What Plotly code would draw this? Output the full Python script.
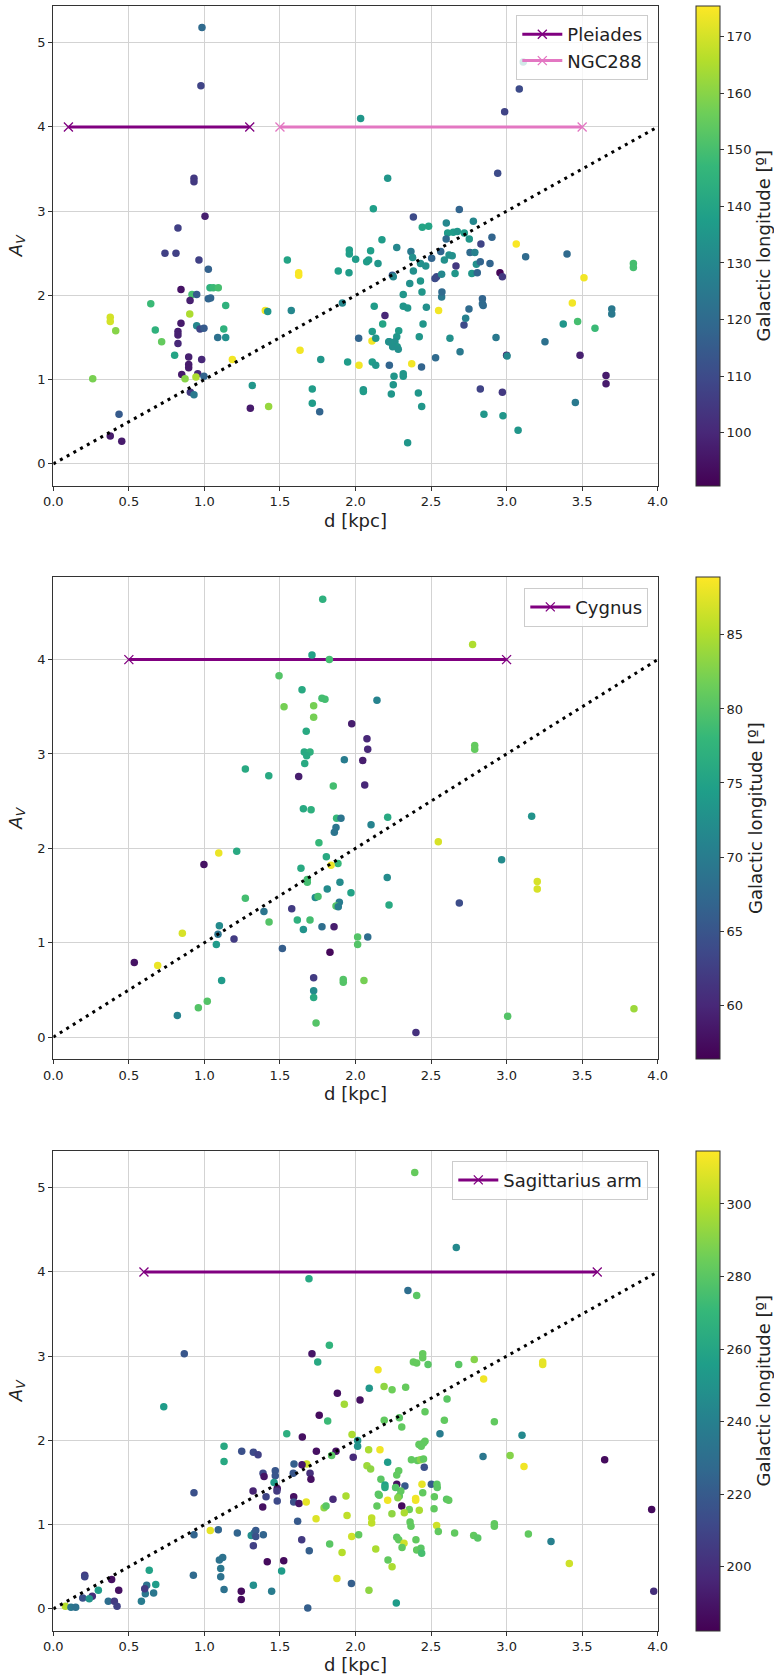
import plotly.graph_objects as go

# ---------------- Panel 1: Pleiades / NGC288 direction ----------------
p1_d = [0.984, 0.977, 2.034, 0.931, 0.931, 2.213, 2.118, 1.004, 0.825, 0.739, 0.812, 0.964, 1.026, 1.549,
        1.624, 1.624, 1.886, 1.957, 1.959, 1.959, 2.001, 2.074, 2.087, 2.10, 2.149, 2.175, 2.273, 2.244,
        2.25, 3.11, 3.084, 2.987, 2.941, 2.687, 2.383, 2.442, 2.484, 2.601, 2.78, 2.61, 2.647, 2.674,
        2.72, 2.60, 2.753, 2.903, 2.83, 3.064, 2.367, 2.564, 2.758, 2.79, 2.378, 2.43, 2.465, 2.504,
        2.619, 2.64, 2.588, 2.665, 2.80, 2.826, 2.89, 2.956, 2.972, 3.126, 3.40, 3.839, 3.839, 3.512,
        3.435, 3.47, 3.375, 3.585, 3.696, 3.696, 3.254, 2.93, 3.0, 3.003, 3.486, 3.658, 3.658, 2.826,
        2.972, 3.455, 2.85, 2.976, 3.076, 2.345, 2.416, 2.438, 2.237, 2.25, 2.255, 2.316, 2.316, 2.372,
        2.437, 2.224, 2.53, 2.692, 2.625, 2.718, 2.729, 2.751, 2.84, 2.84, 2.845, 2.55, 2.57, 2.572,
        2.469, 2.447, 2.422, 2.44, 2.43, 2.359, 2.316, 2.316, 2.345, 2.18, 2.195, 2.286, 2.273, 2.261,
        2.276, 2.246, 2.224, 2.283, 2.383, 2.526, 2.537, 2.57, 2.659, 2.77, 2.806, 0.845, 0.918, 0.949,
        1.026, 1.041, 1.037, 1.059, 1.092, 1.141, 0.905, 0.903, 0.645, 0.377, 0.377, 0.413, 0.675, 0.717,
        0.845, 0.949, 0.971, 0.997, 0.825, 0.825, 0.825, 0.803, 0.896, 0.982, 0.896, 0.896, 0.85, 0.956,
        0.944, 0.997, 0.872, 0.907, 0.931, 0.261, 1.088, 1.141, 1.128, 1.185, 1.317, 1.304, 1.425, 1.403,
        1.419, 1.575, 1.633, 1.77, 1.714, 1.714, 1.763, 1.913, 1.948, 2.021, 2.023, 2.052, 2.052, 2.109,
        2.111, 2.134, 2.111, 2.134, 2.124, 2.22, 0.377, 0.435, 0.453]
p1_av = [5.18, 4.49, 4.10, 3.39, 3.35, 3.39, 3.03, 2.94, 2.80, 2.50, 2.50, 2.42, 2.31, 2.42,
         2.27, 2.24, 2.29, 2.27, 2.54, 2.49, 2.43, 2.40, 2.42, 2.53, 2.38, 2.66, 2.57, 2.24,
         2.22, 4.77, 4.45, 4.18, 3.45, 3.02, 2.93, 2.81, 2.82, 2.86, 2.88, 2.74, 2.75, 2.76,
         2.74, 2.67, 2.67, 2.69, 2.61, 2.61, 2.52, 2.52, 2.51, 2.51, 2.45, 2.38, 2.35, 2.44,
         2.48, 2.47, 2.42, 2.35, 2.37, 2.40, 2.38, 2.27, 2.22, 2.46, 2.49, 2.38, 2.33, 2.21,
         1.91, 1.69, 1.66, 1.61, 1.84, 1.78, 1.45, 1.50, 1.29, 1.28, 1.29, 1.05, 0.95, 0.89,
         0.85, 0.73, 0.59, 0.57, 0.40, 0.25, 0.84, 0.68, 0.83, 0.94, 1.04, 1.07, 1.04, 1.19,
         1.15, 1.17, 1.26, 1.33, 1.49, 1.65, 1.73, 1.84, 1.96, 1.90, 1.88, 1.82, 1.98, 2.04,
         1.86, 1.66, 1.51, 2.04, 2.17, 2.14, 2.01, 1.87, 1.85, 1.66, 1.76, 1.58, 1.51, 1.45,
         1.39, 1.39, 1.45, 1.36, 2.29, 2.20, 2.22, 2.25, 2.26, 2.26, 2.27, 2.07, 2.01, 2.01,
         1.96, 1.97, 2.09, 2.09, 2.09, 1.88, 1.94, 1.78, 1.90, 1.74, 1.69, 1.58, 1.59, 1.45,
         1.67, 1.64, 1.60, 1.61, 1.57, 1.53, 1.43, 1.29, 1.27, 1.24, 1.18, 1.14, 1.06, 1.07,
         1.03, 1.04, 1.01, 0.85, 0.82, 1.01, 1.50, 1.50, 1.60, 1.24, 0.93, 0.66, 0.68, 1.82,
         1.81, 1.82, 1.35, 1.24, 0.89, 0.72, 0.62, 1.91, 1.21, 1.49, 1.17, 0.88, 0.86, 1.46,
         1.57, 1.49, 1.21, 1.17, 1.87, 1.45, 0.33, 0.59, 0.27]
p1_lon = [120, 108, 135, 105, 105, 135, 138, 98, 107, 107, 107, 107, 117, 140,
          175, 175, 138, 137, 138, 138, 137, 137, 137, 138, 135, 137, 130, 115,
          130, 135, 110, 108, 110, 118, 110, 140, 140, 130, 130, 137, 137, 135,
          137, 120, 135, 118, 108, 175, 125, 118, 120, 128, 133, 133, 133, 118,
          133, 133, 133, 105, 133, 118, 118, 92, 105, 120, 120, 150, 150, 174,
          174, 150, 135, 148, 125, 125, 122, 125, 98, 130, 98, 97, 97, 108,
          105, 125, 135, 135, 135, 135, 135, 135, 135, 135, 135, 135, 135, 174,
          118, 118, 120, 125, 133, 110, 128, 120, 118, 120, 120, 174, 125, 120,
          133, 135, 135, 135, 135, 133, 135, 135, 135, 140, 100, 137, 135, 133,
          135, 133, 135, 133, 133, 110, 110, 130, 135, 135, 118, 95, 150, 115,
          118, 118, 145, 148, 150, 145, 98, 165, 148, 170, 170, 160, 145, 155,
          97, 130, 108, 115, 98, 98, 100, 140, 98, 100, 97, 97, 97, 100,
          165, 118, 160, 105, 125, 158, 122, 133, 145, 174, 135, 97, 162, 174,
          135, 130, 174, 135, 137, 137, 118, 130, 137, 118, 174, 135, 137, 174,
          137, 135, 137, 135, 137, 133, 97, 115, 97]

# ---------------- Panel 2: Cygnus direction ----------------
p2_d = [1.783, 1.712, 1.827, 1.494, 1.646, 1.527, 1.723, 1.778, 1.798, 1.723, 2.142, 1.975, 2.076, 2.081,
        1.674, 1.661, 1.699, 1.677, 1.664, 1.926, 2.048, 1.271, 1.426, 1.624, 1.853, 2.061, 1.655, 1.706,
        1.875, 1.904, 2.213, 2.775, 2.789, 2.789, 3.166, 1.871, 1.86, 2.103, 1.758, 1.214, 1.095, 0.997,
        1.807, 1.884, 1.838, 1.639, 1.897, 1.681, 1.681, 1.813, 1.97, 1.734, 1.752, 1.893, 1.871, 1.886,
        2.21, 2.222, 1.271, 1.394, 1.578, 1.615, 1.699, 1.428, 1.655, 1.778, 1.858, 0.854, 1.099, 1.09,
        1.079, 1.196, 1.516, 2.014, 2.014, 2.081, 1.831, 0.536, 0.691, 1.114, 1.723, 1.723, 1.723, 1.919,
        1.919, 2.056, 1.019, 0.96, 0.821, 1.739, 2.548, 2.967, 3.203, 3.203, 2.687, 3.007, 3.843, 2.40]
p2_av = [4.64, 4.05, 4.00, 3.83, 3.68, 3.50, 3.51, 3.59, 3.58, 3.39, 3.57, 3.32, 3.16, 3.05,
         3.24, 3.02, 3.02, 2.98, 2.90, 2.94, 2.93, 2.84, 2.77, 2.76, 2.66, 2.67, 2.42, 2.41,
         2.32, 2.32, 2.33, 4.16, 3.09, 3.05, 2.34, 2.22, 2.17, 2.25, 2.06, 1.97, 1.95, 1.83,
         1.91, 1.84, 1.82, 1.79, 1.64, 1.67, 1.64, 1.57, 1.53, 1.48, 1.49, 1.43, 1.39, 1.38,
         1.69, 1.40, 1.47, 1.33, 1.36, 1.24, 1.24, 1.22, 1.14, 1.17, 1.17, 1.10, 1.18, 1.09,
         0.98, 1.04, 0.94, 1.06, 0.98, 1.06, 0.90, 0.79, 0.76, 0.60, 0.63, 0.49, 0.42, 0.61,
         0.58, 0.60, 0.38, 0.31, 0.23, 0.15, 2.07, 1.88, 1.65, 1.57, 1.42, 0.22, 0.30, 0.05]
p2_lon = [77, 75, 79, 80, 76, 82, 82, 79, 79, 82, 71, 59, 60, 60,
          76, 76, 77, 76, 76, 70, 59, 76, 76, 59, 79, 60, 76, 77,
          78, 69, 76, 85, 81, 81, 73, 69, 69, 71, 78, 76, 88, 58,
          76, 78, 88, 76, 72, 79, 79, 72, 75, 72, 79, 70, 80, 70,
          72, 76, 79, 69, 62, 77, 79, 80, 73, 68, 59, 87, 72, 69,
          74, 62, 66, 80, 80, 68, 57, 58, 88, 74, 62, 72, 76, 80,
          80, 82, 80, 80, 71, 80, 87, 72, 87, 87, 64, 80, 84, 61]

# ---------------- Panel 3: Sagittarius arm direction ----------------
p3_d = [1.692, 0.867, 1.712, 1.827, 1.75, 2.149, 2.091, 2.189, 2.242, 1.88, 2.03, 1.926, 0.731, 2.392,
        2.667, 2.347, 2.405, 2.445, 2.445, 2.383, 2.405, 2.48, 2.683, 2.786, 3.239, 3.239, 2.848, 2.332,
        2.606, 1.76, 1.816, 1.545, 1.648, 1.977, 2.014, 2.014, 1.13, 1.13, 1.247, 1.324, 1.355, 1.741,
        1.871, 1.842, 1.985, 2.087, 2.162, 2.213, 2.076, 2.10, 1.593, 1.677, 1.646, 1.699, 1.705, 1.388,
        1.395, 1.469, 1.469, 1.588, 1.461, 1.482, 1.48, 1.322, 1.408, 1.482, 1.591, 1.591, 1.626, 1.674,
        1.851, 1.386, 1.617, 1.739, 1.792, 1.805, 1.937, 1.944, 2.107, 2.107, 2.213, 2.142, 2.151, 2.157,
        2.168, 2.241, 2.195, 2.195, 2.273, 0.931, 1.039, 0.931, 1.092, 1.218, 1.31, 1.33, 1.34, 1.34,
        1.39, 1.324, 1.416, 1.525, 1.511, 1.644, 1.694, 1.829, 1.911, 1.975, 2.021, 2.134, 2.215, 2.242,
        2.273, 2.286, 1.877, 1.973, 2.089, 2.27, 1.684, 1.108, 1.108, 1.099, 1.121, 1.13, 0.927, 1.324,
        1.445, 1.244, 1.244, 0.635, 0.678, 0.618, 0.609, 0.605, 0.664, 0.583, 0.386, 0.433, 0.364, 0.404,
        0.422, 0.208, 0.208, 0.298, 0.258, 0.195, 0.238, 0.08, 0.117, 0.148, 2.46, 2.588, 2.919, 2.29,
        2.306, 2.19, 2.559, 3.102, 2.42, 2.435, 2.46, 2.45, 2.844, 3.023, 3.115, 3.649, 2.37, 2.41,
        2.43, 2.45, 2.455, 2.286, 2.273, 2.327, 2.30, 2.29, 2.28, 2.44, 2.445, 2.502, 2.539, 2.541,
        2.522, 2.603, 2.617, 2.398, 2.398, 2.306, 2.356, 2.323, 2.422, 2.52, 2.361, 2.367, 2.537, 2.548,
        2.656, 2.782, 2.809, 2.919, 2.919, 3.144, 3.294, 3.415, 3.96, 3.974, 2.321, 2.308, 2.40, 2.405,
        2.433, 2.438, 2.265]
p3_av = [3.92, 3.03, 3.03, 3.13, 2.93, 2.84, 2.62, 2.64, 2.60, 2.56, 2.48, 2.43, 2.40, 5.18,
         4.29, 3.78, 3.72, 3.03, 2.98, 2.93, 2.92, 2.90, 2.90, 2.96, 2.93, 2.90, 2.73, 2.63,
         2.49, 2.30, 2.23, 2.08, 2.04, 2.07, 2.00, 1.93, 1.93, 1.75, 1.87, 1.86, 1.83, 1.87,
         1.87, 1.82, 1.80, 1.89, 1.89, 1.74, 1.70, 1.66, 1.72, 1.72, 1.71, 1.61, 1.54, 1.61,
         1.57, 1.64, 1.58, 1.61, 1.50, 1.43, 1.40, 1.40, 1.33, 1.28, 1.33, 1.27, 1.25, 1.27,
         1.30, 1.21, 1.04, 1.07, 1.20, 1.22, 1.34, 1.11, 1.08, 1.02, 1.29, 1.22, 1.36, 1.35,
         1.54, 1.13, 1.47, 1.44, 1.48, 1.38, 0.93, 0.88, 0.94, 0.90, 0.87, 0.90, 0.93, 0.86,
         0.88, 0.75, 0.56, 0.57, 0.45, 0.82, 0.69, 0.77, 0.67, 0.86, 0.88, 0.71, 0.58, 0.50,
         0.85, 0.82, 0.36, 0.30, 0.22, 0.07, 0.01, 0.48, 0.38, 0.58, 0.61, 0.23, 0.40, 0.28,
         0.21, 0.21, 0.11, 0.46, 0.29, 0.28, 0.18, 0.24, 0.19, 0.09, 0.35, 0.22, 0.09, 0.09,
         0.03, 0.40, 0.38, 0.22, 0.15, 0.13, 0.12, 0.03, 0.02, 0.02, 2.34, 2.24, 2.22, 2.27,
         2.16, 2.24, 2.08, 2.06, 1.95, 1.93, 1.99, 1.97, 1.81, 1.82, 1.69, 1.77, 1.77, 1.76,
         1.77, 1.78, 1.68, 1.64, 1.59, 1.46, 1.40, 1.34, 1.32, 1.48, 1.38, 1.48, 1.48, 1.44,
         1.33, 1.30, 1.29, 1.31, 1.29, 1.22, 1.18, 1.14, 1.17, 1.19, 1.03, 0.98, 0.99, 0.92,
         0.90, 0.87, 0.84, 1.01, 0.98, 0.89, 0.80, 0.54, 1.18, 0.21, 0.78, 0.73, 0.82, 0.70,
         0.72, 0.66, 1.44]
p3_lon = [262, 218, 190, 268, 262, 312, 252, 292, 285, 188, 188, 296, 255, 283,
          245, 230, 280, 283, 283, 283, 283, 280, 280, 290, 310, 310, 312, 283,
          280, 186, 272, 265, 188, 298, 250, 250, 262, 262, 215, 212, 208, 188,
          188, 280, 198, 298, 312, 255, 295, 292, 222, 305, 190, 200, 188, 212,
          190, 218, 218, 218, 255, 190, 205, 195, 210, 212, 188, 215, 190, 310,
          198, 188, 220, 308, 292, 280, 298, 302, 302, 302, 312, 282, 280, 280,
          280, 292, 258, 262, 188, 215, 310, 225, 225, 225, 248, 232, 220, 215,
          225, 208, 186, 186, 255, 205, 222, 280, 300, 305, 282, 298, 282, 298,
          280, 282, 308, 222, 292, 255, 222, 235, 232, 232, 232, 232, 228, 248,
          238, 186, 186, 258, 255, 232, 235, 205, 235, 238, 188, 188, 230, 205,
          208, 205, 210, 255, 200, 215, 250, 300, 235, 232, 282, 282, 282, 280,
          282, 282, 238, 245, 282, 282, 282, 282, 235, 290, 312, 186, 282, 282,
          290, 282, 215, 282, 282, 220, 282, 282, 290, 310, 282, 220, 280, 280,
          282, 280, 282, 312, 312, 186, 285, 298, 298, 282, 282, 282, 305, 282,
          282, 282, 280, 282, 282, 282, 240, 305, 186, 200, 305, 282, 282, 282,
          280, 275, 278]

# Reference cluster distances drawn at A_V = 4
p1_clusters = ["Pleiades", "NGC288"]
p1_cluster_start = [0.1, 1.5]
p1_cluster_end = [1.3, 3.5]
p2_clusters = ["Cygnus"]
p2_cluster_start = [0.5]
p2_cluster_end = [3.0]
p3_clusters = ["Sagittarius arm"]
p3_cluster_start = [0.6]
p3_cluster_end = [3.6]
cluster_av = 4.0

# colour-scale limits of each panel
p1_crange = [90.6, 175.5]
p2_crange = [56.35, 88.9]
p3_crange = [182.3, 314.7]
p1_cticks = [100, 110, 120, 130, 140, 150, 160, 170]
p2_cticks = [60, 65, 70, 75, 80, 85]
p3_cticks = [200, 220, 240, 260, 280, 300]
cbar_title = "Galactic longitude [º]"

# A_V = d reference line
ref_d = [0.0, 4.0]
ref_av = [0.0, 4.0]

x_ticks = [0.0, 0.5, 1.0, 1.5, 2.0, 2.5, 3.0, 3.5, 4.0]

W, H = 774, 1675
x_dom = [53.3 / W, 657.7 / W]
panel_px = [(5.7, 485.7), (577.3, 1059.0), (1150.7, 1630.7)]
y_doms = [[1 - b / H, 1 - t / H] for t, b in panel_px]

panels = [
    (p1_d, p1_av, p1_lon, p1_crange, p1_cticks, p1_clusters, p1_cluster_start, p1_cluster_end, [-0.259, 5.439], [0, 1, 2, 3, 4, 5]),
    (p2_d, p2_av, p2_lon, p2_crange, p2_cticks, p2_clusters, p2_cluster_start, p2_cluster_end, [-0.232, 4.872], [0, 1, 2, 3, 4]),
    (p3_d, p3_av, p3_lon, p3_crange, p3_cticks, p3_clusters, p3_cluster_start, p3_cluster_end, [-0.259, 5.439], [0, 1, 2, 3, 4, 5]),
]
cluster_colors = ["#800080", "#e377c2"]
legend_tops = [15.0, 587.7, 1160.7]

font_family = "DejaVu Sans"
text_color = "#222222"
tick_size = 13
fig = go.Figure()
layout = dict(
    width=W, height=H,
    margin=dict(l=0, r=0, t=0, b=0, autoexpand=False),
    paper_bgcolor="white", plot_bgcolor="white",
    font=dict(family=font_family, size=tick_size, color=text_color),
)

for i, (d, av, lon, crange, cticks, names, starts, ends, yrange, yticks) in enumerate(panels):
    n = "" if i == 0 else str(i + 1)
    xa, ya = "x" + n, "y" + n
    cax = "coloraxis" + n
    leg = "legend" + n

    for j, name in enumerate(names):
        fig.add_trace(go.Scatter(
            x=[starts[j], ends[j]], y=[cluster_av, cluster_av], mode="lines+markers", name=name,
            line=dict(color=cluster_colors[j], width=3),
            marker=dict(symbol="x-thin", size=9, color=cluster_colors[j],
                        line=dict(color=cluster_colors[j], width=1.3)),
            xaxis=xa, yaxis=ya, legend=leg, showlegend=True,
        ))

    fig.add_trace(go.Scatter(
        x=d, y=av, mode="markers",
        marker=dict(size=7.5, color=lon, coloraxis=cax, line=dict(width=0)),
        xaxis=xa, yaxis=ya, showlegend=False,
    ))

    fig.add_trace(go.Scatter(
        x=ref_d, y=ref_av, mode="lines",
        line=dict(color="black", width=3, dash="3px,4.7px"),
        xaxis=xa, yaxis=ya, showlegend=False,
    ))

    t, b = panel_px[i]
    layout["xaxis" + n] = dict(
        domain=x_dom, range=[0, 4], anchor=ya, tickvals=x_ticks, tickformat=".1f",
        showgrid=True, gridcolor="#d3d3d3", gridwidth=1, zeroline=False,
        showline=True, linecolor="#333333", linewidth=1.2, mirror=True,
        ticks="outside", ticklen=4, tickcolor="#333333",
        tickfont=dict(size=tick_size, family=font_family, color=text_color),
        title=dict(text="d [kpc]", font=dict(size=18, family=font_family, color=text_color), standoff=5),
        automargin=False,
    )
    layout["yaxis" + n] = dict(
        domain=y_doms[i], range=yrange, anchor=xa, tickvals=yticks,
        showgrid=True, gridcolor="#d3d3d3", gridwidth=1, zeroline=False,
        showline=True, linecolor="#333333", linewidth=1.2, mirror=True,
        ticks="outside", ticklen=4, tickcolor="#333333",
        tickfont=dict(size=tick_size, family=font_family, color=text_color),
        title=dict(text="<i>A</i><sub><i>V</i></sub>", font=dict(size=18, family=font_family, color=text_color), standoff=10),
        automargin=False,
    )
    layout[cax] = dict(
        cmin=crange[0], cmax=crange[1], colorscale="Viridis",
        colorbar=dict(
            x=695.7 / W, xanchor="left", xref="paper", xpad=0,
            y=1 - (t + b) / 2 / H, yanchor="middle", yref="paper", ypad=0,
            len=(b - t) / H, lenmode="fraction", thickness=24,
            outlinewidth=1, outlinecolor="#333333",
            tickvals=cticks, ticks="outside", ticklen=4, tickcolor="#333333",
            tickfont=dict(size=tick_size, family=font_family, color=text_color),
            title=dict(text=cbar_title, side="right",
                       font=dict(size=18, family=font_family, color=text_color)),
        ),
    )
    layout[leg] = dict(
        x=648.3 / W, xanchor="right", y=1 - legend_tops[i] / H, yanchor="top",
        bgcolor="rgba(255,255,255,0.8)", bordercolor="#cccccc", borderwidth=1,
        font=dict(size=18, family=font_family, color=text_color),
        itemwidth=40, tracegroupgap=2,
    )

fig.update_layout(**layout)
fig.write_html("out.html")
